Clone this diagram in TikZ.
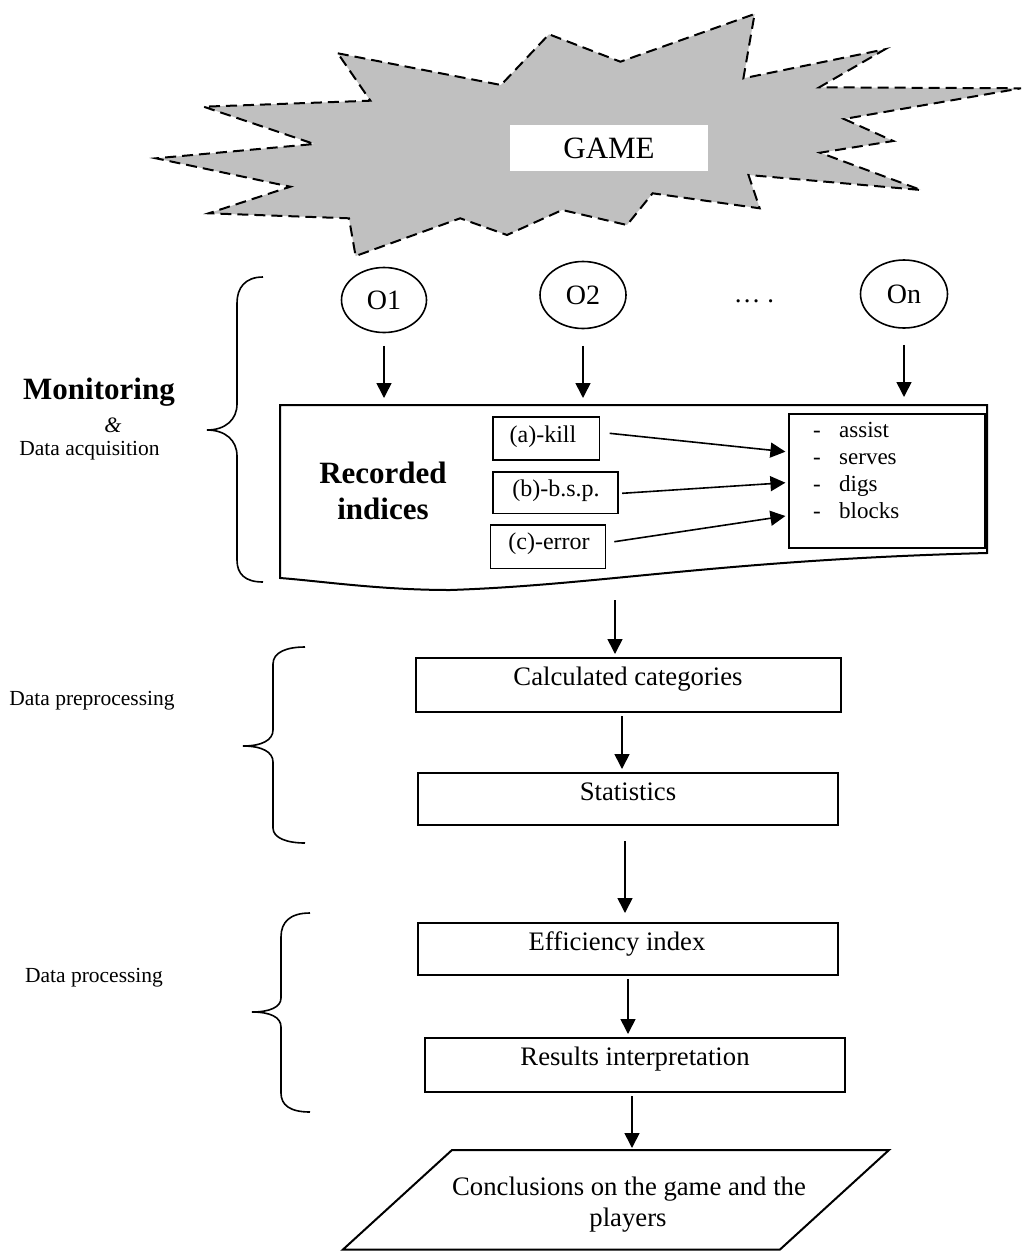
\documentclass[tikz,border=0pt]{standalone}
\usepackage{fontspec}
\setmainfont{Liberation Serif}
\usetikzlibrary{arrows.meta,shapes.geometric}
\definecolor{stargray}{RGB}{192,192,192}
\begin{document}
\begin{tikzpicture}[x=1pt,y=-1pt,
  arr/.style={line width=1.6pt,-{Triangle[length=15pt,width=15pt]}},
  box/.style={draw,line width=2pt,inner sep=0pt},
  thinbox/.style={draw,line width=1.6pt,inner sep=0pt},
  starline/.style={draw=black,fill=stargray,line width=2pt,dash pattern=on 11pt off 6pt},
  brace/.style={draw,line width=1.6pt},
  oval/.style={ellipse,draw,line width=1.6pt,inner sep=0pt,font=\fontsize{28}{32}\selectfont},
  maintxt/.style={anchor=base,inner sep=0pt,font=\fontsize{26.7}{30.7}\selectfont},
  sidetxt/.style={anchor=base,inner sep=0pt,font=\fontsize{21.5}{25}\selectfont},
  idxtxt/.style={anchor=base,inner sep=0pt,font=\fontsize{24}{28}\selectfont},
  listtxt/.style={anchor=base west,inner sep=0pt,font=\fontsize{23}{27}\selectfont},
  boldtxt/.style={anchor=base,inner sep=0pt,font=\fontsize{31}{27}\selectfont\bfseries}]
\useasboundingbox (0,0) rectangle (1021,1251);

% star
\path[starline] (337.8,53.3) -- (501,85) -- (549,34.3) -- (620.4,61.7) -- (754.6,14)
  -- (743.4,78.3) -- (885,49.3) -- (819.3,87.3) -- (1021,88.3) -- (844,119)
  -- (893.3,141) -- (820,152.7) -- (921,190) -- (748.5,175) -- (759.7,208.3)
  -- (652.6,193.3) -- (627,225) -- (562.2,210) -- (507,235) -- (460.2,218.3)
  -- (355.6,256) -- (349,218.3) -- (208.7,213.3) -- (290.3,186.7) -- (156,158.3)
  -- (314.3,144) -- (203.6,106.7) -- (370.4,100.7) -- cycle;
\node[fill=white,minimum width=198,minimum height=46,inner sep=0pt,
      font=\fontsize{31}{35}\selectfont] (game) at (609,148) {GAME};

% observers
\node[oval,minimum width=85,minimum height=65] (O1) at (384,300) {O1};
\node[oval,minimum width=86,minimum height=67] (O2) at (583,295) {O2};
\node[oval,minimum width=87,minimum height=68] (On) at (904,294) {On};
\node[maintxt] (dots) at (754,302) {… .};

% recorded indices shape
\coordinate (rtl) at (280,405);
\coordinate (rtr) at (987,405);
\coordinate (rbr) at (987,553);
\coordinate (rbm) at (450,590);
\coordinate (rbl) at (280,578);
\draw[line width=2pt] (rtl) -- (rtr) -- (rbr) .. controls (720,560) and (600,585) .. (rbm)
  .. controls (380,590) and (320,581) .. (rbl) -- cycle;

\draw[arr,shorten <=12.5pt,shorten >=7pt] (O1.south) -- (O1.south |- rtl);
\draw[arr,shorten <=16.5pt,shorten >=7pt] (O2.south) -- (O2.south |- rtl);
\draw[arr,shorten <=16pt,shorten >=8pt] (On.south) -- (On.south |- rtl);

\node[boldtxt] (rec1) at (383,483) {Recorded};
\node[boldtxt] (rec2) at (383,519) {indices};

\node[thinbox,minimum width=106.4,minimum height=42.7] (ka) at (546.2,438.6) {};
\node[idxtxt] (kat) at (543,442) {(a)-kill};
\node[thinbox,minimum width=125,minimum height=41.6] (kb) at (555.5,492.5) {};
\node[idxtxt] (kbt) at (556,496) {(b)-b.s.p.};
\node[thinbox,minimum width=115,minimum height=43.3] (kc) at (548,546.7) {};
\node[idxtxt] (kct) at (549,549) {(c)-error};

\node[box,minimum width=196,minimum height=134] (lst) at (887,481) {};
\foreach \w/\y in {assist/437,serves/464,digs/491,blocks/518}{
  \node[listtxt] at (813,\y) {-};
  \node[listtxt] at (839,\y) {\w};
}

\draw[arr] ([xshift=9.4pt,yshift=5.3pt]ka.east) -- ([xshift=-2.6pt,yshift=29.3pt]lst.west);
\draw[arr] ([xshift=3.4pt,yshift=-0.8pt]kb.east) -- ([xshift=-2.6pt,yshift=-1.7pt]lst.west);
\draw[arr] ([xshift=8pt,yshift=5pt]kc.east) -- ([xshift=-2.6pt,yshift=-35pt]lst.west);

% left labels and braces
\node[boldtxt] (mon) at (99,399) {Monitoring};
\node[anchor=base,inner sep=0pt,font=\fontsize{22}{26}\selectfont\itshape] (amp) at (113,432) {\&};
\node[sidetxt] (daq) at (89.5,455) {Data acquisition};
\draw[brace] (263,277) .. controls (245,277) and (237,288) .. (237,303)
  -- (237,404) .. controls (237,420) and (225,430) .. (207,430)
  .. controls (225,430) and (237,440) .. (237,456)
  -- (237,560) .. controls (237,574) and (245,582) .. (263,582);

\node[sidetxt] (dpre) at (92,705) {Data preprocessing};
\draw[brace] (305,647) .. controls (287,647) and (273,652) .. (273,664)
  -- (273,730) .. controls (273,740) and (262,746) .. (243,746)
  .. controls (262,746) and (273,752) .. (273,762)
  -- (273,828) .. controls (273,838) and (287,843) .. (305,843);

\node[sidetxt] (dpro) at (94,982) {Data processing};
\draw[brace] (310,913) .. controls (290,913) and (281,922) .. (281,937)
  -- (281,998) .. controls (281,1007) and (270,1012) .. (252,1012)
  .. controls (270,1012) and (281,1017) .. (281,1027)
  -- (281,1093) .. controls (281,1105) and (290,1112) .. (310,1112);

% processing chain
\node[box,minimum width=425,minimum height=54] (calc) at (628.5,685) {};
\node[maintxt] (calct) at (628,685) {Calculated categories};
\node[box,minimum width=420,minimum height=52] (stat) at (628,799) {};
\node[maintxt] (statt) at (628,800) {Statistics};
\node[box,minimum width=420,minimum height=52] (eff) at (628,949) {};
\node[maintxt] (efft) at (617,950) {Efficiency index};
\node[box,minimum width=420,minimum height=54] (res) at (635,1065) {};
\node[maintxt] (rest) at (635,1065) {Results interpretation};

\coordinate (ctl) at (452,1150);
\coordinate (ctr) at (889,1150);
\coordinate (cbr) at (780,1249.5);
\coordinate (cbl) at (343,1249.5);
\coordinate (cin) at (632,1150);
\draw[line width=2pt] (ctl) -- (ctr) -- (cbr) -- (cbl) -- cycle;
\node[maintxt] (c1) at (629,1195) {Conclusions on the game and the};
\node[maintxt] (c2) at (628,1226) {players};

\coordinate (recout) at (615,600);
\draw[arr] (recout) -- ([xshift=-13.5pt,yshift=3pt]calc.north);
\draw[arr] ([xshift=-6.5pt,yshift=-3pt]calc.south) -- ([xshift=-6pt,yshift=3pt]stat.north);
\draw[arr] ([xshift=-3pt,yshift=-15pt]stat.south) -- ([xshift=-3pt,yshift=9pt]eff.north);
\draw[arr] ([xshift=0pt,yshift=-3pt]eff.south) -- ([xshift=-7pt,yshift=3pt]res.north);
\draw[arr] ([xshift=-3pt,yshift=-3pt]res.south) -- ([yshift=2pt]cin);
\end{tikzpicture}
\end{document}
